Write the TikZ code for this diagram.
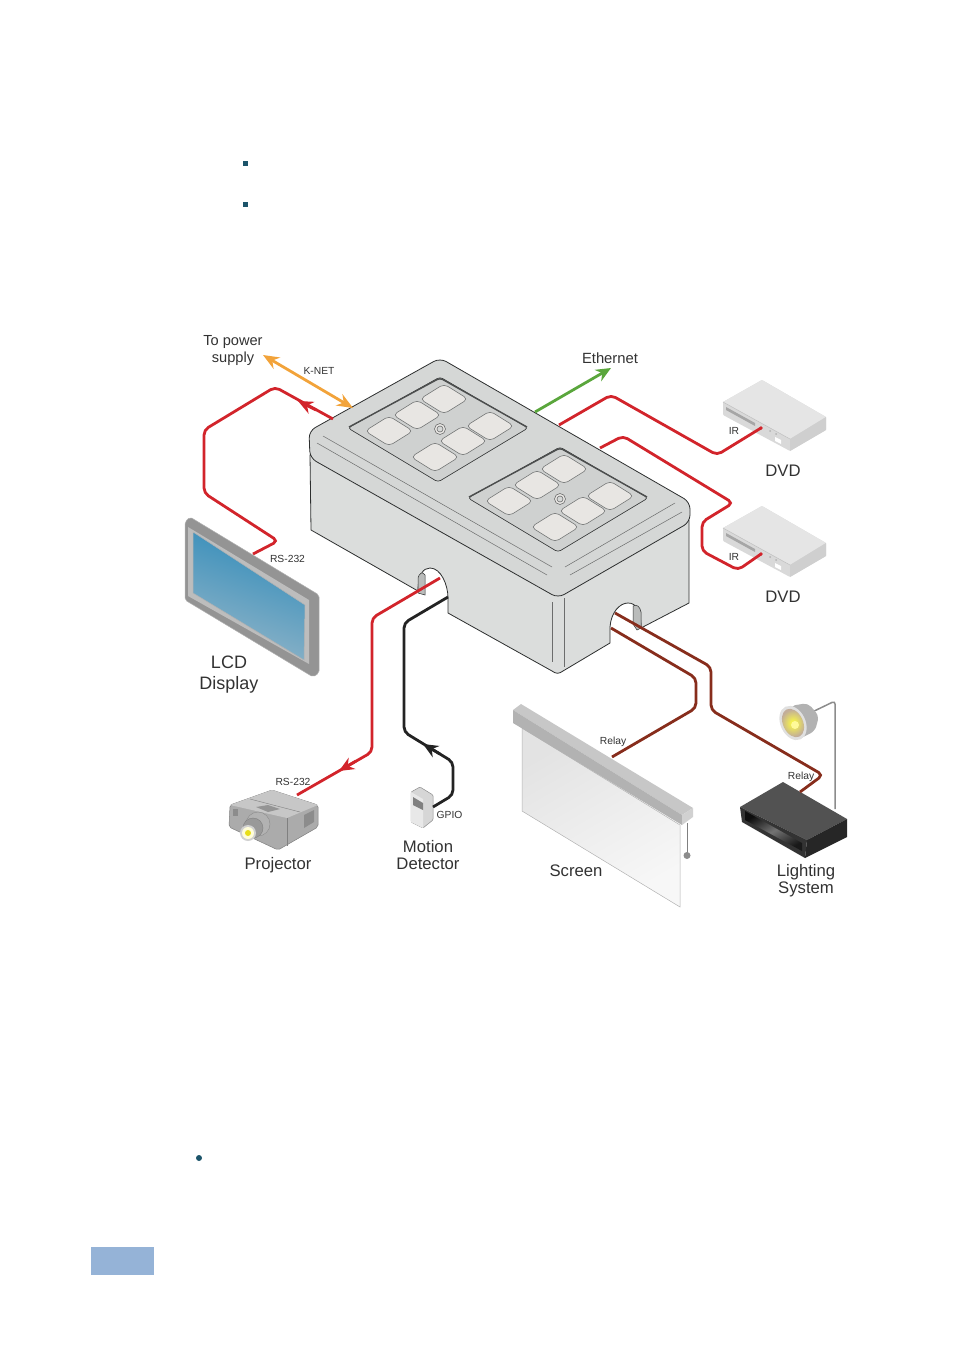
\documentclass[tikz,border=0pt]{standalone}
\usepackage{fontspec}
\setmainfont{Liberation Sans}
\usetikzlibrary{arrows.meta}
\definecolor{boxwall}{RGB}{219,221,220}
\definecolor{boxlid}{RGB}{213,215,214}
\definecolor{boxedge}{RGB}{45,47,47}
\definecolor{keycap}{RGB}{232,230,227}
\definecolor{cablered}{RGB}{210,36,43}
\definecolor{cablebrown}{RGB}{135,45,28}
\definecolor{cableblack}{RGB}{35,35,35}
\definecolor{knetorange}{RGB}{242,163,58}
\definecolor{ethgreen}{RGB}{90,166,60}
\definecolor{bullet}{RGB}{28,84,106}
\definecolor{pageblue}{RGB}{149,179,215}
\definecolor{labelgrey}{RGB}{50,50,50}
\definecolor{lcdblue}{RGB}{50,140,186}
\definecolor{lcdpale}{RGB}{146,181,200}
\tikzset{
	cable/.style={line width=2.8pt, rounded corners=5pt},
	tipcable/.style={line width=2.8pt, -{Stealth[length=15pt,width=13pt]}},
	bigtext/.style={font=\fontsize{16.7}{17.2}\selectfont, text=labelgrey, align=center, inner sep=0pt},
	smalltext/.style={font=\fontsize{10.3}{12}\selectfont, text=labelgrey, inner sep=0pt},
	thinline/.style={line width=0.5pt, draw=boxedge!70},
	keystyle/.style={fill=keycap, draw=boxedge!65, line width=0.6pt, rounded corners=4.5pt}
}
\begin{document}
\begin{tikzpicture}[x=1pt, y=-1pt]
		\useasboundingbox (0,0) rectangle (954,1354);

		% page marks
		\fill[bullet] (242.5,160.5) rectangle (247.5,165.5);
		\fill[bullet] (242.5,201.5) rectangle (247.5,206.5);
		\fill[bullet] (199,1158) circle (3);
		\fill[pageblue] (91,1247) rectangle (154,1275);

		% body of the box with the two notches
		\draw[fill=boxwall, draw=boxedge, line width=0.8pt, line join=round] (310,455) -- (311,530) -- (418,591)
			.. controls (418,575) and (423,568) .. (430,568) .. controls (441,568) and (448,585) .. (448,598)
			-- (448,613) -- (552,671) .. controls (556,674) and (559,674) .. (563,671) -- (610,643) -- (610,627)
			.. controls (611,612) and (620,603) .. (628,603) .. controls (636,603) and (641,610) .. (641,628)
			-- (689,603) -- (689,520) -- cycle;
		\draw[fill=boxwall!85!black, draw=boxedge, line width=0.5pt] (418,593) -- (418,578) .. controls (419,573) and (423,571) .. (425,575) -- (425,595) -- cycle;
		\draw[fill=boxwall!85!black, draw=boxedge, line width=0.5pt] (633,624) -- (633,606) .. controls (636,604) and (640,606) .. (641,612) -- (641,628) -- (637,630) -- cycle;
		\draw[thinline] (552,602) -- (552,662);
		\draw[thinline] (564,598) -- (564,667);

		% lid
		\draw[fill=boxlid, draw=boxedge, line width=0.8pt, rounded corners=7pt] (440,358) -- (690,502) -- (690,522) -- (558,598) -- (310,458) -- (309,431) -- cycle;
		\draw[thinline] (323,436) -- (552,567);
		\draw[thinline] (317,443) -- (547,575);
		\draw[thinline] (565,567) -- (675,503);
		\draw[thinline] (570,575) -- (682,512);

		% two key panels
		\foreach \panelx/\panely in {0/0,120/70}{
			\begin{scope}[shift={(\panelx,\panely)}]
				\draw[fill=boxlid!97!black, draw=boxedge, line width=0.6pt, rounded corners=3pt] (440,377) -- (528,428) -- (438,482) -- (348,428) -- cycle;
				\draw[draw=boxedge!85, line width=1.4pt, rounded corners=3pt] (349,427) -- (440,378) -- (527,427);
				\foreach \keyx/\keyy in {444/399,417/415,389/431,490/426,463/441,435/457}{
					\draw[keystyle] (\keyx,\keyy-15) -- (\keyx+24,\keyy) -- (\keyx,\keyy+15) -- (\keyx-24,\keyy) -- cycle;
				}
				\draw[draw=boxedge!70, fill=keycap, line width=0.6pt] (440,429) circle (5.5);
				\draw[draw=boxedge!70, fill=boxlid, line width=0.6pt] (440,429) circle (3);
			\end{scope}
		}

		% LCD display
		\draw[fill=black!42, draw=black!30, line width=0.5pt, rounded corners=2pt] (185,522) -- (190,517) -- (319,595) -- (319,673) -- (313,677) -- (185,600) -- cycle;
		\fill[black!26] (188,527) -- (309,600) -- (309,664) -- (188,596) -- cycle;
		\shade[left color=lcdblue, right color=lcdpale, shading angle=-20] (193,532) -- (305,605) -- (304,660) -- (193,593) -- cycle;
		\draw[white!70!black, line width=0.5pt] (193,532) -- (305,605) -- (304,660) -- (193,593) -- cycle;

		% projector
		\draw[fill=black!33, draw=black!50, line width=0.5pt, rounded corners=2pt] (272,790) -- (318,805) -- (318,827) -- (278,850) -- (229,827) -- (230,805) -- cycle;
		\fill[black!22] (272,790) -- (318,805) -- (287,818) -- (230,805) -- cycle;
		\draw[black!50, line width=0.4pt] (287,818) -- (287,846);
		\draw[black!50, line width=0.4pt] (250,799) -- (300,812);
		\fill[black!42] (256,807) -- (268,805) -- (280,809) -- (268,812) -- cycle;
		\fill[black!45] (233,809) rectangle (238,816);
		\fill[black!45] (304,815) -- (314,810) -- (314,822) -- (304,828) -- cycle;
		\draw[fill=black!30, draw=black!45, line width=0.4pt] (258,824) circle (12);
		\draw[fill=black!40, draw=black!50, line width=0.4pt] (253,828) circle (10);
		\fill[black!18] (248,833) circle (8);
		\fill[white!85!yellow] (248,833) circle (6);
		\fill[yellow!90!black] (248,833) circle (3);

		% motion detector
		\draw[fill=black!16, draw=black!45, line width=0.5pt, rounded corners=1pt] (411,792) -- (420,787) -- (433,795) -- (433,820) -- (423,828) -- (411,822) -- cycle;
		\fill[black!9] (411,792) -- (423,799) -- (423,828) -- (411,822) -- cycle;
		\fill[black!50] (413,797) -- (423,803) -- (423,810) -- (413,805) -- cycle;

		% screen
		\shade[left color=black!11, right color=black!3, draw=black!30, line width=0.5pt, shading angle=30] (522,728) -- (680,825) -- (680,907) -- (522,811) -- cycle;
		\draw[black!50, line width=0.5pt] (687,823) -- (687,853);
		\fill[black!45] (687,855.5) circle (3.5);
		\fill[black!22] (513,710) -- (521,704) -- (693,808) -- (682,815) -- cycle;
		\fill[black!30] (513,710) -- (682,815) -- (682,825) -- (513,723) -- cycle;
		\fill[black!18] (682,815) -- (693,808) -- (693,817) -- (682,825) -- cycle;

		% lighting system
		\fill[black!68] (783,782) -- (847,819) -- (807,840) -- (740,807) -- cycle;
		\fill[black!80] (740,807) -- (807,840) -- (805,858) -- (742,822) -- cycle;
		\fill[black!85] (807,840) -- (847,819) -- (847,837) -- (805,858) -- cycle;
		\shade[left color=black!95, right color=black!90, middle color=black!55, shading angle=30] (745,811) -- (802,843) -- (802,851) -- (745,820) -- cycle;

		% lamp
		\draw[black!45, line width=1.5pt, rounded corners=3pt] (808,714) -- (835,701) -- (835,809);
		\fill[black!30, rounded corners=5pt] (790,706) -- (808,703) -- (819,716) -- (815,731) -- (795,741) -- cycle;
		\fill[black!12, rotate around={25:(793,723)}] (793,723) ellipse (12.5 and 18);
		\shade[inner color=yellow!75!white, outer color=orange!40!black!40, rotate around={25:(793,723)}] (793,723) ellipse (10 and 15);
		\fill[yellow!40!white] (795,725) circle (4);

		% DVD players
		\foreach \dvdy in {0,126}{
			\begin{scope}[shift={(0,\dvdy)}]
				\fill[black!15, rounded corners=1pt] (723,402) -- (762,380) -- (826,417) -- (826,430) -- (790,451) -- (723,415) -- cycle;
				\fill[black!10] (723,402) -- (762,380) -- (826,417) -- (790,439) -- cycle;
				\fill[black!19] (826,417) -- (826,430) -- (790,451) -- (790,439) -- cycle;
				\fill[black!35] (726,407) -- (755,423) -- (755,426) -- (726,410) -- cycle;
				\fill[black!30] (770,431) circle (1);
				\fill[black!30] (776,434) circle (1);
				\fill[white] (775,437) -- (781,440) -- (781,444) -- (775,441) -- cycle;
				\draw[black!25, line width=0.5pt] (723,402) -- (790,439);
			\end{scope}
		}

		% places where the cables end
		\coordinate (knetfar) at (263,355);
		\coordinate (knetport) at (353,408);
		\coordinate (ethport) at (535,412);
		\coordinate (ethfar) at (611,368);
		\coordinate (lcdport) at (333,419);
		\coordinate (lcdstub) at (316,410);
		\coordinate (lcdtip) at (298,401);
		\coordinate (lcdend) at (253,554);
		\coordinate (dvdaport) at (559,425);
		\coordinate (dvdaend) at (761,428);
		\coordinate (dvdbport) at (600,448);
		\coordinate (dvdbend) at (761,554);
		\coordinate (projport) at (440,578);
		\coordinate (projstub) at (356,761);
		\coordinate (projtip) at (339,771);
		\coordinate (projend) at (297,795);
		\coordinate (gpioport) at (448,597);
		\coordinate (gpiostub) at (440,754);
		\coordinate (gpiotip) at (423,744);
		\coordinate (gpioend) at (433,807);
		\coordinate (relaya) at (611,628);
		\coordinate (relayaend) at (612,757);
		\coordinate (relayb) at (615,613);
		\coordinate (relaybend) at (800,792);

		% cables
		\draw[knetorange, line width=2.8pt, {Stealth[length=16pt,width=13pt]}-{Stealth[length=16pt,width=13pt]}] (knetfar) -- (knetport);
		\draw[ethgreen, tipcable] (ethport) -- (ethfar);
		\draw[cablered, cable] (lcdport) -- (275,387) -- (204,430) -- (204,493) -- (278,541) -- (lcdend);
		\draw[cablered, tipcable] (lcdstub) -- (lcdtip);
		\draw[cablered, cable] (dvdaport) -- (611,395) -- (717,455) -- (dvdaend);
		\draw[cablered, cable] (dvdbport) -- (623,436) -- (733,503) -- (702,522) -- (702,551) -- (738,570) -- (dvdbend);
		\draw[cablered, cable] (projport) -- (372,618) -- (372,752) -- (projend);
		\draw[cablered, tipcable] (projstub) -- (projtip);
		\draw[cableblack, cable] (gpioport) -- (404,623) -- (404,732) -- (453,762) -- (453,795) -- (gpioend);
		\draw[cableblack, tipcable] (gpiostub) -- (gpiotip);
		\draw[cablebrown, cable] (relaya) -- (696,678) -- (696,708) -- (relayaend);
		\draw[cablebrown, cable] (relayb) -- (711,667) -- (711,710) -- (823,775) -- (relaybend);
		\fill[cablered] (dvdaend) circle (1.8);
		\fill[cablered] (dvdbend) circle (1.8);

		% labels
		\node[bigtext, font=\fontsize{14.6}{17}\selectfont] (powerlabel) at (233,350) {To power\\supply};
		\node[bigtext, font=\fontsize{14.8}{17}\selectfont] (ethlabel) at (610,358.5) {Ethernet};
		\node[smalltext] (knetlabel) at (319,370.5) {K-NET};
		\node[smalltext] (lcdportlabel) at (287.5,558.5) {RS-232};
		\node[smalltext] (projportlabel) at (293,781.5) {RS-232};
		\node[smalltext] (iralabel) at (734,430.5) {IR};
		\node[smalltext] (irblabel) at (734,556.5) {IR};
		\node[smalltext] (gpiolabel) at (449.5,814.5) {GPIO};
		\node[smalltext] (relayalabel) at (613,741.5) {Relay};
		\node[smalltext] (relayblabel) at (801,776.5) {Relay};
		\node[bigtext] (dvdalabel) at (783,471) {DVD};
		\node[bigtext] (dvdblabel) at (783,597) {DVD};
		\node[bigtext, font=\fontsize{18}{21}\selectfont] (lcdlabel) at (229,675) {LCD\\Display};
		\node[bigtext] (projlabel) at (278,865) {Projector};
		\node[bigtext] (motionlabel) at (428,855) {Motion\\Detector};
		\node[bigtext] (screenlabel) at (576,871) {Screen};
		\node[bigtext] (lightlabel) at (806,881) {Lighting\\System};

		\end{tikzpicture}
\end{document}
